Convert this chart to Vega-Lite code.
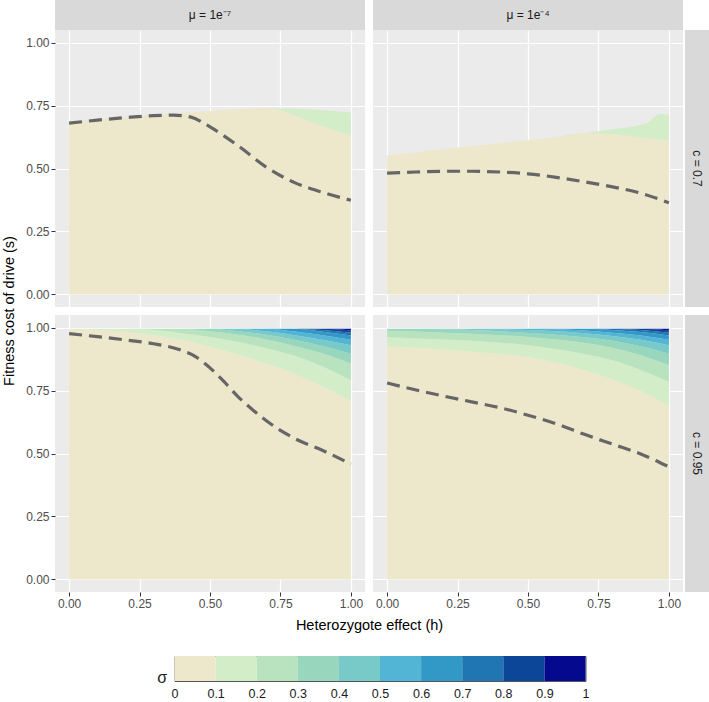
{
  "$schema": "https://vega.github.io/schema/vega-lite/v6.json",
  "padding": {"left": 1, "top": 0, "right": 0, "bottom": 0},
  "datasets": {
    "bands": [
      {"p":"a","h":0,"z":0.05,"lo":0,"hi":0.686},{"p":"a","h":0.1,"z":0.05,"lo":0,"hi":0.695},{"p":"a","h":0.2,"z":0.05,"lo":0,"hi":0.704},{"p":"a","h":0.3,"z":0.05,"lo":0,"hi":0.712},{"p":"a","h":0.4,"z":0.05,"lo":0,"hi":0.72},{"p":"a","h":0.5,"z":0.05,"lo":0,"hi":0.728},{"p":"a","h":0.6,"z":0.05,"lo":0,"hi":0.735},{"p":"a","h":0.7,"z":0.05,"lo":0,"hi":0.74},{"p":"a","h":0.8,"z":0.05,"lo":0,"hi":0.71},{"p":"a","h":0.9,"z":0.05,"lo":0,"hi":0.668},{"p":"a","h":1,"z":0.05,"lo":0,"hi":0.632},
      {"p":"a","h":0,"z":0.15,"lo":0.686,"hi":0.686},{"p":"a","h":0.1,"z":0.15,"lo":0.695,"hi":0.695},{"p":"a","h":0.2,"z":0.15,"lo":0.704,"hi":0.704},{"p":"a","h":0.3,"z":0.15,"lo":0.712,"hi":0.712},{"p":"a","h":0.4,"z":0.15,"lo":0.72,"hi":0.72},{"p":"a","h":0.5,"z":0.15,"lo":0.728,"hi":0.728},{"p":"a","h":0.6,"z":0.15,"lo":0.735,"hi":0.735},{"p":"a","h":0.7,"z":0.15,"lo":0.74,"hi":0.74},{"p":"a","h":0.8,"z":0.15,"lo":0.71,"hi":0.738},{"p":"a","h":0.9,"z":0.15,"lo":0.668,"hi":0.731},{"p":"a","h":1,"z":0.15,"lo":0.632,"hi":0.722},

      {"p":"b","h":0,"z":0.05,"lo":0,"hi":0.552},{"p":"b","h":0.1,"z":0.05,"lo":0,"hi":0.564},{"p":"b","h":0.2,"z":0.05,"lo":0,"hi":0.576},{"p":"b","h":0.3,"z":0.05,"lo":0,"hi":0.588},{"p":"b","h":0.4,"z":0.05,"lo":0,"hi":0.6},{"p":"b","h":0.5,"z":0.05,"lo":0,"hi":0.612},{"p":"b","h":0.6,"z":0.05,"lo":0,"hi":0.625},{"p":"b","h":0.7,"z":0.05,"lo":0,"hi":0.64},{"p":"b","h":0.8,"z":0.05,"lo":0,"hi":0.637},{"p":"b","h":0.9,"z":0.05,"lo":0,"hi":0.623},{"p":"b","h":0.93,"z":0.05,"lo":0,"hi":0.619},{"p":"b","h":0.95,"z":0.05,"lo":0,"hi":0.617},{"p":"b","h":0.97,"z":0.05,"lo":0,"hi":0.615},{"p":"b","h":1,"z":0.05,"lo":0,"hi":0.612},
      {"p":"b","h":0,"z":0.15,"lo":0.552,"hi":0.552},{"p":"b","h":0.1,"z":0.15,"lo":0.564,"hi":0.564},{"p":"b","h":0.2,"z":0.15,"lo":0.576,"hi":0.576},{"p":"b","h":0.3,"z":0.15,"lo":0.588,"hi":0.588},{"p":"b","h":0.4,"z":0.15,"lo":0.6,"hi":0.6},{"p":"b","h":0.5,"z":0.15,"lo":0.612,"hi":0.612},{"p":"b","h":0.6,"z":0.15,"lo":0.625,"hi":0.625},{"p":"b","h":0.7,"z":0.15,"lo":0.64,"hi":0.64},{"p":"b","h":0.8,"z":0.15,"lo":0.637,"hi":0.657},{"p":"b","h":0.9,"z":0.15,"lo":0.623,"hi":0.674},{"p":"b","h":0.93,"z":0.15,"lo":0.619,"hi":0.686},{"p":"b","h":0.95,"z":0.15,"lo":0.617,"hi":0.706},{"p":"b","h":0.97,"z":0.15,"lo":0.615,"hi":0.716},{"p":"b","h":1,"z":0.15,"lo":0.612,"hi":0.713},

      {"p":"c","h":0,"z":0.05,"lo":0,"hi":0.995},{"p":"c","h":0.1,"z":0.05,"lo":0,"hi":0.99},{"p":"c","h":0.2,"z":0.05,"lo":0,"hi":0.983},{"p":"c","h":0.3,"z":0.05,"lo":0,"hi":0.97},{"p":"c","h":0.4,"z":0.05,"lo":0,"hi":0.952},{"p":"c","h":0.5,"z":0.05,"lo":0,"hi":0.925},{"p":"c","h":0.6,"z":0.05,"lo":0,"hi":0.893},{"p":"c","h":0.7,"z":0.05,"lo":0,"hi":0.857},{"p":"c","h":0.8,"z":0.05,"lo":0,"hi":0.817},{"p":"c","h":0.9,"z":0.05,"lo":0,"hi":0.767},{"p":"c","h":1,"z":0.05,"lo":0,"hi":0.708},
      {"p":"c","h":0,"z":0.15,"lo":0.995,"hi":0.995},{"p":"c","h":0.1,"z":0.15,"lo":0.99,"hi":0.995},{"p":"c","h":0.2,"z":0.15,"lo":0.983,"hi":0.995},{"p":"c","h":0.3,"z":0.15,"lo":0.97,"hi":0.99},{"p":"c","h":0.4,"z":0.15,"lo":0.952,"hi":0.978},{"p":"c","h":0.5,"z":0.15,"lo":0.925,"hi":0.963},{"p":"c","h":0.6,"z":0.15,"lo":0.893,"hi":0.943},{"p":"c","h":0.7,"z":0.15,"lo":0.857,"hi":0.918},{"p":"c","h":0.8,"z":0.15,"lo":0.817,"hi":0.888},{"p":"c","h":0.9,"z":0.15,"lo":0.767,"hi":0.845},{"p":"c","h":1,"z":0.15,"lo":0.708,"hi":0.79},
      {"p":"c","h":0,"z":0.25,"lo":0.995,"hi":0.995},{"p":"c","h":0.1,"z":0.25,"lo":0.995,"hi":0.995},{"p":"c","h":0.2,"z":0.25,"lo":0.995,"hi":0.995},{"p":"c","h":0.3,"z":0.25,"lo":0.99,"hi":0.995},{"p":"c","h":0.4,"z":0.25,"lo":0.978,"hi":0.995},{"p":"c","h":0.5,"z":0.25,"lo":0.963,"hi":0.985},{"p":"c","h":0.6,"z":0.25,"lo":0.943,"hi":0.972},{"p":"c","h":0.7,"z":0.25,"lo":0.918,"hi":0.953},{"p":"c","h":0.8,"z":0.25,"lo":0.888,"hi":0.927},{"p":"c","h":0.9,"z":0.25,"lo":0.845,"hi":0.897},{"p":"c","h":1,"z":0.25,"lo":0.79,"hi":0.857},
      {"p":"c","h":0,"z":0.35,"lo":0.995,"hi":0.995},{"p":"c","h":0.1,"z":0.35,"lo":0.995,"hi":0.995},{"p":"c","h":0.2,"z":0.35,"lo":0.995,"hi":0.995},{"p":"c","h":0.3,"z":0.35,"lo":0.995,"hi":0.995},{"p":"c","h":0.4,"z":0.35,"lo":0.995,"hi":0.995},{"p":"c","h":0.5,"z":0.35,"lo":0.985,"hi":0.995},{"p":"c","h":0.6,"z":0.35,"lo":0.972,"hi":0.985},{"p":"c","h":0.7,"z":0.35,"lo":0.953,"hi":0.972},{"p":"c","h":0.8,"z":0.35,"lo":0.927,"hi":0.952},{"p":"c","h":0.9,"z":0.35,"lo":0.897,"hi":0.927},{"p":"c","h":1,"z":0.35,"lo":0.857,"hi":0.896},
      {"p":"c","h":0,"z":0.45,"lo":0.995,"hi":0.995},{"p":"c","h":0.1,"z":0.45,"lo":0.995,"hi":0.995},{"p":"c","h":0.2,"z":0.45,"lo":0.995,"hi":0.995},{"p":"c","h":0.3,"z":0.45,"lo":0.995,"hi":0.995},{"p":"c","h":0.4,"z":0.45,"lo":0.995,"hi":0.995},{"p":"c","h":0.5,"z":0.45,"lo":0.995,"hi":0.995},{"p":"c","h":0.6,"z":0.45,"lo":0.985,"hi":0.995},{"p":"c","h":0.7,"z":0.45,"lo":0.972,"hi":0.985},{"p":"c","h":0.8,"z":0.45,"lo":0.952,"hi":0.97},{"p":"c","h":0.9,"z":0.45,"lo":0.927,"hi":0.952},{"p":"c","h":1,"z":0.45,"lo":0.896,"hi":0.93},
      {"p":"c","h":0,"z":0.55,"lo":0.995,"hi":0.995},{"p":"c","h":0.1,"z":0.55,"lo":0.995,"hi":0.995},{"p":"c","h":0.2,"z":0.55,"lo":0.995,"hi":0.995},{"p":"c","h":0.3,"z":0.55,"lo":0.995,"hi":0.995},{"p":"c","h":0.4,"z":0.55,"lo":0.995,"hi":0.995},{"p":"c","h":0.5,"z":0.55,"lo":0.995,"hi":0.995},{"p":"c","h":0.6,"z":0.55,"lo":0.995,"hi":0.995},{"p":"c","h":0.7,"z":0.55,"lo":0.985,"hi":0.995},{"p":"c","h":0.8,"z":0.55,"lo":0.97,"hi":0.984},{"p":"c","h":0.9,"z":0.55,"lo":0.952,"hi":0.97},{"p":"c","h":1,"z":0.55,"lo":0.93,"hi":0.952},
      {"p":"c","h":0,"z":0.65,"lo":0.995,"hi":0.995},{"p":"c","h":0.1,"z":0.65,"lo":0.995,"hi":0.995},{"p":"c","h":0.2,"z":0.65,"lo":0.995,"hi":0.995},{"p":"c","h":0.3,"z":0.65,"lo":0.995,"hi":0.995},{"p":"c","h":0.4,"z":0.65,"lo":0.995,"hi":0.995},{"p":"c","h":0.5,"z":0.65,"lo":0.995,"hi":0.995},{"p":"c","h":0.6,"z":0.65,"lo":0.995,"hi":0.995},{"p":"c","h":0.7,"z":0.65,"lo":0.995,"hi":0.995},{"p":"c","h":0.8,"z":0.65,"lo":0.984,"hi":0.995},{"p":"c","h":0.9,"z":0.65,"lo":0.97,"hi":0.983},{"p":"c","h":1,"z":0.65,"lo":0.952,"hi":0.969},
      {"p":"c","h":0,"z":0.75,"lo":0.995,"hi":0.995},{"p":"c","h":0.1,"z":0.75,"lo":0.995,"hi":0.995},{"p":"c","h":0.2,"z":0.75,"lo":0.995,"hi":0.995},{"p":"c","h":0.3,"z":0.75,"lo":0.995,"hi":0.995},{"p":"c","h":0.4,"z":0.75,"lo":0.995,"hi":0.995},{"p":"c","h":0.5,"z":0.75,"lo":0.995,"hi":0.995},{"p":"c","h":0.6,"z":0.75,"lo":0.995,"hi":0.995},{"p":"c","h":0.7,"z":0.75,"lo":0.995,"hi":0.995},{"p":"c","h":0.8,"z":0.75,"lo":0.995,"hi":0.995},{"p":"c","h":0.9,"z":0.75,"lo":0.983,"hi":0.99},{"p":"c","h":1,"z":0.75,"lo":0.969,"hi":0.98},
      {"p":"c","h":0,"z":0.85,"lo":0.995,"hi":0.995},{"p":"c","h":0.1,"z":0.85,"lo":0.995,"hi":0.995},{"p":"c","h":0.2,"z":0.85,"lo":0.995,"hi":0.995},{"p":"c","h":0.3,"z":0.85,"lo":0.995,"hi":0.995},{"p":"c","h":0.4,"z":0.85,"lo":0.995,"hi":0.995},{"p":"c","h":0.5,"z":0.85,"lo":0.995,"hi":0.995},{"p":"c","h":0.6,"z":0.85,"lo":0.995,"hi":0.995},{"p":"c","h":0.7,"z":0.85,"lo":0.995,"hi":0.995},{"p":"c","h":0.8,"z":0.85,"lo":0.995,"hi":0.995},{"p":"c","h":0.9,"z":0.85,"lo":0.99,"hi":0.995},{"p":"c","h":1,"z":0.85,"lo":0.98,"hi":0.988},
      {"p":"c","h":0,"z":0.95,"lo":0.995,"hi":0.995},{"p":"c","h":0.1,"z":0.95,"lo":0.995,"hi":0.995},{"p":"c","h":0.2,"z":0.95,"lo":0.995,"hi":0.995},{"p":"c","h":0.3,"z":0.95,"lo":0.995,"hi":0.995},{"p":"c","h":0.4,"z":0.95,"lo":0.995,"hi":0.995},{"p":"c","h":0.5,"z":0.95,"lo":0.995,"hi":0.995},{"p":"c","h":0.6,"z":0.95,"lo":0.995,"hi":0.995},{"p":"c","h":0.7,"z":0.95,"lo":0.995,"hi":0.995},{"p":"c","h":0.8,"z":0.95,"lo":0.995,"hi":0.995},{"p":"c","h":0.9,"z":0.95,"lo":0.995,"hi":0.995},{"p":"c","h":1,"z":0.95,"lo":0.988,"hi":0.995},

      {"p":"d","h":0,"z":0.05,"lo":0,"hi":0.926},{"p":"d","h":0.1,"z":0.05,"lo":0,"hi":0.92},{"p":"d","h":0.2,"z":0.05,"lo":0,"hi":0.913},{"p":"d","h":0.3,"z":0.05,"lo":0,"hi":0.905},{"p":"d","h":0.4,"z":0.05,"lo":0,"hi":0.895},{"p":"d","h":0.5,"z":0.05,"lo":0,"hi":0.882},{"p":"d","h":0.6,"z":0.05,"lo":0,"hi":0.862},{"p":"d","h":0.7,"z":0.05,"lo":0,"hi":0.832},{"p":"d","h":0.8,"z":0.05,"lo":0,"hi":0.795},{"p":"d","h":0.9,"z":0.05,"lo":0,"hi":0.748},{"p":"d","h":1,"z":0.05,"lo":0,"hi":0.69},
      {"p":"d","h":0,"z":0.15,"lo":0.926,"hi":0.963},{"p":"d","h":0.1,"z":0.15,"lo":0.92,"hi":0.958},{"p":"d","h":0.2,"z":0.15,"lo":0.913,"hi":0.953},{"p":"d","h":0.3,"z":0.15,"lo":0.905,"hi":0.948},{"p":"d","h":0.4,"z":0.15,"lo":0.895,"hi":0.94},{"p":"d","h":0.5,"z":0.15,"lo":0.882,"hi":0.93},{"p":"d","h":0.6,"z":0.15,"lo":0.862,"hi":0.915},{"p":"d","h":0.7,"z":0.15,"lo":0.832,"hi":0.895},{"p":"d","h":0.8,"z":0.15,"lo":0.795,"hi":0.87},{"p":"d","h":0.9,"z":0.15,"lo":0.748,"hi":0.832},{"p":"d","h":1,"z":0.15,"lo":0.69,"hi":0.784},
      {"p":"d","h":0,"z":0.25,"lo":0.963,"hi":0.987},{"p":"d","h":0.1,"z":0.25,"lo":0.958,"hi":0.984},{"p":"d","h":0.2,"z":0.25,"lo":0.953,"hi":0.98},{"p":"d","h":0.3,"z":0.25,"lo":0.948,"hi":0.976},{"p":"d","h":0.4,"z":0.25,"lo":0.94,"hi":0.97},{"p":"d","h":0.5,"z":0.25,"lo":0.93,"hi":0.963},{"p":"d","h":0.6,"z":0.25,"lo":0.915,"hi":0.953},{"p":"d","h":0.7,"z":0.25,"lo":0.895,"hi":0.94},{"p":"d","h":0.8,"z":0.25,"lo":0.87,"hi":0.92},{"p":"d","h":0.9,"z":0.25,"lo":0.832,"hi":0.89},{"p":"d","h":1,"z":0.25,"lo":0.784,"hi":0.85},
      {"p":"d","h":0,"z":0.35,"lo":0.987,"hi":0.995},{"p":"d","h":0.1,"z":0.35,"lo":0.984,"hi":0.995},{"p":"d","h":0.2,"z":0.35,"lo":0.98,"hi":0.993},{"p":"d","h":0.3,"z":0.35,"lo":0.976,"hi":0.99},{"p":"d","h":0.4,"z":0.35,"lo":0.97,"hi":0.985},{"p":"d","h":0.5,"z":0.35,"lo":0.963,"hi":0.979},{"p":"d","h":0.6,"z":0.35,"lo":0.953,"hi":0.972},{"p":"d","h":0.7,"z":0.35,"lo":0.94,"hi":0.962},{"p":"d","h":0.8,"z":0.35,"lo":0.92,"hi":0.948},{"p":"d","h":0.9,"z":0.35,"lo":0.89,"hi":0.926},{"p":"d","h":1,"z":0.35,"lo":0.85,"hi":0.896},
      {"p":"d","h":0,"z":0.45,"lo":0.995,"hi":0.995},{"p":"d","h":0.1,"z":0.45,"lo":0.995,"hi":0.995},{"p":"d","h":0.2,"z":0.45,"lo":0.993,"hi":0.995},{"p":"d","h":0.3,"z":0.45,"lo":0.99,"hi":0.995},{"p":"d","h":0.4,"z":0.45,"lo":0.985,"hi":0.993},{"p":"d","h":0.5,"z":0.45,"lo":0.979,"hi":0.99},{"p":"d","h":0.6,"z":0.45,"lo":0.972,"hi":0.985},{"p":"d","h":0.7,"z":0.45,"lo":0.962,"hi":0.978},{"p":"d","h":0.8,"z":0.45,"lo":0.948,"hi":0.967},{"p":"d","h":0.9,"z":0.45,"lo":0.926,"hi":0.952},{"p":"d","h":1,"z":0.45,"lo":0.896,"hi":0.93},
      {"p":"d","h":0,"z":0.55,"lo":0.995,"hi":0.995},{"p":"d","h":0.1,"z":0.55,"lo":0.995,"hi":0.995},{"p":"d","h":0.2,"z":0.55,"lo":0.995,"hi":0.995},{"p":"d","h":0.3,"z":0.55,"lo":0.995,"hi":0.995},{"p":"d","h":0.4,"z":0.55,"lo":0.993,"hi":0.995},{"p":"d","h":0.5,"z":0.55,"lo":0.99,"hi":0.995},{"p":"d","h":0.6,"z":0.55,"lo":0.985,"hi":0.993},{"p":"d","h":0.7,"z":0.55,"lo":0.978,"hi":0.988},{"p":"d","h":0.8,"z":0.55,"lo":0.967,"hi":0.98},{"p":"d","h":0.9,"z":0.55,"lo":0.952,"hi":0.969},{"p":"d","h":1,"z":0.55,"lo":0.93,"hi":0.952},
      {"p":"d","h":0,"z":0.65,"lo":0.995,"hi":0.995},{"p":"d","h":0.1,"z":0.65,"lo":0.995,"hi":0.995},{"p":"d","h":0.2,"z":0.65,"lo":0.995,"hi":0.995},{"p":"d","h":0.3,"z":0.65,"lo":0.995,"hi":0.995},{"p":"d","h":0.4,"z":0.65,"lo":0.995,"hi":0.995},{"p":"d","h":0.5,"z":0.65,"lo":0.995,"hi":0.995},{"p":"d","h":0.6,"z":0.65,"lo":0.993,"hi":0.995},{"p":"d","h":0.7,"z":0.65,"lo":0.988,"hi":0.995},{"p":"d","h":0.8,"z":0.65,"lo":0.98,"hi":0.99},{"p":"d","h":0.9,"z":0.65,"lo":0.969,"hi":0.982},{"p":"d","h":1,"z":0.65,"lo":0.952,"hi":0.969},
      {"p":"d","h":0,"z":0.75,"lo":0.995,"hi":0.995},{"p":"d","h":0.1,"z":0.75,"lo":0.995,"hi":0.995},{"p":"d","h":0.2,"z":0.75,"lo":0.995,"hi":0.995},{"p":"d","h":0.3,"z":0.75,"lo":0.995,"hi":0.995},{"p":"d","h":0.4,"z":0.75,"lo":0.995,"hi":0.995},{"p":"d","h":0.5,"z":0.75,"lo":0.995,"hi":0.995},{"p":"d","h":0.6,"z":0.75,"lo":0.995,"hi":0.995},{"p":"d","h":0.7,"z":0.75,"lo":0.995,"hi":0.995},{"p":"d","h":0.8,"z":0.75,"lo":0.99,"hi":0.995},{"p":"d","h":0.9,"z":0.75,"lo":0.982,"hi":0.99},{"p":"d","h":1,"z":0.75,"lo":0.969,"hi":0.98},
      {"p":"d","h":0,"z":0.85,"lo":0.995,"hi":0.995},{"p":"d","h":0.1,"z":0.85,"lo":0.995,"hi":0.995},{"p":"d","h":0.2,"z":0.85,"lo":0.995,"hi":0.995},{"p":"d","h":0.3,"z":0.85,"lo":0.995,"hi":0.995},{"p":"d","h":0.4,"z":0.85,"lo":0.995,"hi":0.995},{"p":"d","h":0.5,"z":0.85,"lo":0.995,"hi":0.995},{"p":"d","h":0.6,"z":0.85,"lo":0.995,"hi":0.995},{"p":"d","h":0.7,"z":0.85,"lo":0.995,"hi":0.995},{"p":"d","h":0.8,"z":0.85,"lo":0.995,"hi":0.995},{"p":"d","h":0.9,"z":0.85,"lo":0.99,"hi":0.995},{"p":"d","h":1,"z":0.85,"lo":0.98,"hi":0.988},
      {"p":"d","h":0,"z":0.95,"lo":0.995,"hi":0.995},{"p":"d","h":0.1,"z":0.95,"lo":0.995,"hi":0.995},{"p":"d","h":0.2,"z":0.95,"lo":0.995,"hi":0.995},{"p":"d","h":0.3,"z":0.95,"lo":0.995,"hi":0.995},{"p":"d","h":0.4,"z":0.95,"lo":0.995,"hi":0.995},{"p":"d","h":0.5,"z":0.95,"lo":0.995,"hi":0.995},{"p":"d","h":0.6,"z":0.95,"lo":0.995,"hi":0.995},{"p":"d","h":0.7,"z":0.95,"lo":0.995,"hi":0.995},{"p":"d","h":0.8,"z":0.95,"lo":0.995,"hi":0.995},{"p":"d","h":0.9,"z":0.95,"lo":0.995,"hi":0.995},{"p":"d","h":1,"z":0.95,"lo":0.988,"hi":0.995}
    ],
    "dash": [
      {"p":"a","h":0,"s":0.68},{"p":"a","h":0.1,"s":0.692},{"p":"a","h":0.2,"s":0.702},{"p":"a","h":0.3,"s":0.71},{"p":"a","h":0.37,"s":0.712},{"p":"a","h":0.43,"s":0.705},{"p":"a","h":0.5,"s":0.665},{"p":"a","h":0.6,"s":0.59},{"p":"a","h":0.7,"s":0.505},{"p":"a","h":0.8,"s":0.444},{"p":"a","h":0.9,"s":0.405},{"p":"a","h":1,"s":0.374},
      {"p":"b","h":0,"s":0.482},{"p":"b","h":0.1,"s":0.486},{"p":"b","h":0.2,"s":0.489},{"p":"b","h":0.3,"s":0.489},{"p":"b","h":0.4,"s":0.486},{"p":"b","h":0.5,"s":0.479},{"p":"b","h":0.6,"s":0.465},{"p":"b","h":0.7,"s":0.447},{"p":"b","h":0.8,"s":0.427},{"p":"b","h":0.9,"s":0.402},{"p":"b","h":1,"s":0.364},
      {"p":"c","h":0,"s":0.976},{"p":"c","h":0.1,"s":0.964},{"p":"c","h":0.2,"s":0.951},{"p":"c","h":0.3,"s":0.936},{"p":"c","h":0.4,"s":0.909},{"p":"c","h":0.45,"s":0.884},{"p":"c","h":0.5,"s":0.84},{"p":"c","h":0.55,"s":0.785},{"p":"c","h":0.6,"s":0.725},{"p":"c","h":0.65,"s":0.675},{"p":"c","h":0.7,"s":0.63},{"p":"c","h":0.8,"s":0.56},{"p":"c","h":0.9,"s":0.512},{"p":"c","h":1,"s":0.458},
      {"p":"d","h":0,"s":0.78},{"p":"d","h":0.1,"s":0.753},{"p":"d","h":0.2,"s":0.728},{"p":"d","h":0.3,"s":0.705},{"p":"d","h":0.4,"s":0.682},{"p":"d","h":0.5,"s":0.652},{"p":"d","h":0.6,"s":0.618},{"p":"d","h":0.7,"s":0.576},{"p":"d","h":0.8,"s":0.537},{"p":"d","h":0.9,"s":0.498},{"p":"d","h":1,"s":0.447}
    ],
    "bins": [
      {"lo":0,"hi":0.1,"z":0.05},{"lo":0.1,"hi":0.2,"z":0.15},{"lo":0.2,"hi":0.3,"z":0.25},{"lo":0.3,"hi":0.4,"z":0.35},{"lo":0.4,"hi":0.5,"z":0.45},
      {"lo":0.5,"hi":0.6,"z":0.55},{"lo":0.6,"hi":0.7,"z":0.65},{"lo":0.7,"hi":0.8,"z":0.75},{"lo":0.8,"hi":0.9,"z":0.85},{"lo":0.9,"hi":1,"z":0.95}
    ]
  },
  "vconcat": [
    {
      "concat": [
        {"width":310,"height":30,"view":{"fill":"#D9D9D9","stroke":null},"data":{"values":[{"lab":"μ = 1e⁻⁷"}]},"mark":{"type":"text","fontSize":12,"color":"#1A1A1A"},"encoding":{"text":{"field":"lab"}}},
        {"width":8,"height":1,"data":{"values":[]},"mark":"point"},
        {"width":310,"height":30,"view":{"fill":"#D9D9D9","stroke":null},"data":{"values":[{"lab":"μ = 1e⁻⁴"}]},"mark":{"type":"text","fontSize":12,"color":"#1A1A1A"},"encoding":{"text":{"field":"lab"}}},
        {"width":2,"height":1,"data":{"values":[]},"mark":"point"},
        {"width":1,"height":1,"data":{"values":[]},"mark":"point"},

        {"width":310,"height":277,"view":{"fill":"#EBEBEB","stroke":null},
         "layer":[
          {"data":{"name":"bands"},"transform":[{"filter":"datum.p === 'a'"}],"mark":{"type":"area","interpolate":"monotone"},
           "encoding":{
            "x":{"field":"h","type":"quantitative","scale":{"domain":[-0.05,1.05],"nice":false,"zero":false},
                 "axis":{"values":[0,0.125,0.25,0.375,0.5,0.625,0.75,0.875,1],"grid":true,"gridWidth":{"condition":{"test":"datum.value % 0.25 !== 0","value":0.6},"value":1.2},"labels":false,"ticks":false,"title":null}},
            "y":{"field":"lo","type":"quantitative","scale":{"domain":[-0.05,1.05],"nice":false,"zero":false},
                 "axis":{"values":[0,0.125,0.25,0.375,0.5,0.625,0.75,0.875,1],"grid":true,"gridWidth":{"condition":{"test":"datum.value % 0.25 !== 0","value":0.6},"value":1.2},"tickOpacity":{"condition":{"test":"datum.value % 0.25 !== 0","value":0},"value":1},"labelExpr":"datum.value % 0.25 === 0 ? format(datum.value, '.2f') : ''","labelPadding":2,"title":"Fitness cost of drive (s)","titleY":280.5,"titlePadding":9}},
            "y2":{"field":"hi"},
            "color":{"field":"z","type":"quantitative","scale":{"type":"quantize","domain":[0,1],"range":["#EDE7CB","#D3EDC9","#B9E3BF","#98D6BE","#77CAC7","#52B5D5","#3298C6","#1F76B3","#0C4699","#05098E"]},"legend":null},
            "detail":{"field":"z","type":"quantitative"}
           }},
          {"data":{"name":"dash"},"transform":[{"filter":"datum.p === 'a'"}],"mark":{"type":"line","interpolate":"monotone","color":"#666666","strokeWidth":3.2,"strokeDash":[13,7]},
           "encoding":{"x":{"field":"h","type":"quantitative"},"y":{"field":"s","type":"quantitative"}}}
         ]},
        {"width":8,"height":1,"data":{"values":[]},"mark":"point"},
        {"width":310,"height":277,"view":{"fill":"#EBEBEB","stroke":null},
         "layer":[
          {"data":{"name":"bands"},"transform":[{"filter":"datum.p === 'b'"}],"mark":{"type":"area","interpolate":"monotone"},
           "encoding":{
            "x":{"field":"h","type":"quantitative","scale":{"domain":[-0.05,1.05],"nice":false,"zero":false},
                 "axis":{"values":[0,0.125,0.25,0.375,0.5,0.625,0.75,0.875,1],"grid":true,"gridWidth":{"condition":{"test":"datum.value % 0.25 !== 0","value":0.6},"value":1.2},"labels":false,"ticks":false,"title":null}},
            "y":{"field":"lo","type":"quantitative","scale":{"domain":[-0.05,1.05],"nice":false,"zero":false},
                 "axis":{"values":[0,0.125,0.25,0.375,0.5,0.625,0.75,0.875,1],"grid":true,"gridWidth":{"condition":{"test":"datum.value % 0.25 !== 0","value":0.6},"value":1.2},"labels":false,"ticks":false,"title":null}},
            "y2":{"field":"hi"},
            "color":{"field":"z","type":"quantitative","scale":{"type":"quantize","domain":[0,1],"range":["#EDE7CB","#D3EDC9","#B9E3BF","#98D6BE","#77CAC7","#52B5D5","#3298C6","#1F76B3","#0C4699","#05098E"]},"legend":null},
            "detail":{"field":"z","type":"quantitative"}
           }},
          {"data":{"name":"dash"},"transform":[{"filter":"datum.p === 'b'"}],"mark":{"type":"line","interpolate":"monotone","color":"#666666","strokeWidth":3.2,"strokeDash":[13,7]},
           "encoding":{"x":{"field":"h","type":"quantitative"},"y":{"field":"s","type":"quantitative"}}}
         ]},
        {"width":2,"height":1,"data":{"values":[]},"mark":"point"},
        {"width":24,"height":277,"view":{"fill":"#D9D9D9","stroke":null},"data":{"values":[{"lab":"c = 0.7"}]},"mark":{"type":"text","fontSize":12,"color":"#1A1A1A","angle":90},"encoding":{"text":{"field":"lab"}}},

        {"width":1,"height":8,"data":{"values":[]},"mark":"point"},
        {"width":8,"height":8,"data":{"values":[]},"mark":"point"},
        {"width":1,"height":8,"data":{"values":[]},"mark":"point"},
        {"width":2,"height":8,"data":{"values":[]},"mark":"point"},
        {"width":1,"height":8,"data":{"values":[]},"mark":"point"},

        {"width":310,"height":277,"view":{"fill":"#EBEBEB","stroke":null},
         "layer":[
          {"data":{"name":"bands"},"transform":[{"filter":"datum.p === 'c'"}],"mark":{"type":"area","interpolate":"monotone"},
           "encoding":{
            "x":{"field":"h","type":"quantitative","scale":{"domain":[-0.05,1.05],"nice":false,"zero":false},
                 "axis":{"values":[0,0.125,0.25,0.375,0.5,0.625,0.75,0.875,1],"grid":true,"gridWidth":{"condition":{"test":"datum.value % 0.25 !== 0","value":0.6},"value":1.2},"tickOpacity":{"condition":{"test":"datum.value % 0.25 !== 0","value":0},"value":1},"labelExpr":"datum.value % 0.25 === 0 ? format(datum.value, '.2f') : ''","labelPadding":2,"title":"Heterozygote effect (h)","titleX":314,"titlePadding":9}},
            "y":{"field":"lo","type":"quantitative","scale":{"domain":[-0.05,1.05],"nice":false,"zero":false},
                 "axis":{"values":[0,0.125,0.25,0.375,0.5,0.625,0.75,0.875,1],"grid":true,"gridWidth":{"condition":{"test":"datum.value % 0.25 !== 0","value":0.6},"value":1.2},"tickOpacity":{"condition":{"test":"datum.value % 0.25 !== 0","value":0},"value":1},"labelExpr":"datum.value % 0.25 === 0 ? format(datum.value, '.2f') : ''","labelPadding":2,"title":null}},
            "y2":{"field":"hi"},
            "color":{"field":"z","type":"quantitative","scale":{"type":"quantize","domain":[0,1],"range":["#EDE7CB","#D3EDC9","#B9E3BF","#98D6BE","#77CAC7","#52B5D5","#3298C6","#1F76B3","#0C4699","#05098E"]},"legend":null},
            "detail":{"field":"z","type":"quantitative"}
           }},
          {"data":{"name":"dash"},"transform":[{"filter":"datum.p === 'c'"}],"mark":{"type":"line","interpolate":"monotone","color":"#666666","strokeWidth":3.2,"strokeDash":[13,7]},
           "encoding":{"x":{"field":"h","type":"quantitative"},"y":{"field":"s","type":"quantitative"}}}
         ]},
        {"width":8,"height":1,"data":{"values":[]},"mark":"point"},
        {"width":310,"height":277,"view":{"fill":"#EBEBEB","stroke":null},
         "layer":[
          {"data":{"name":"bands"},"transform":[{"filter":"datum.p === 'd'"}],"mark":{"type":"area","interpolate":"monotone"},
           "encoding":{
            "x":{"field":"h","type":"quantitative","scale":{"domain":[-0.05,1.05],"nice":false,"zero":false},
                 "axis":{"values":[0,0.125,0.25,0.375,0.5,0.625,0.75,0.875,1],"grid":true,"gridWidth":{"condition":{"test":"datum.value % 0.25 !== 0","value":0.6},"value":1.2},"tickOpacity":{"condition":{"test":"datum.value % 0.25 !== 0","value":0},"value":1},"labelExpr":"datum.value % 0.25 === 0 ? format(datum.value, '.2f') : ''","labelPadding":2,"title":null}},
            "y":{"field":"lo","type":"quantitative","scale":{"domain":[-0.05,1.05],"nice":false,"zero":false},
                 "axis":{"values":[0,0.125,0.25,0.375,0.5,0.625,0.75,0.875,1],"grid":true,"gridWidth":{"condition":{"test":"datum.value % 0.25 !== 0","value":0.6},"value":1.2},"labels":false,"ticks":false,"title":null}},
            "y2":{"field":"hi"},
            "color":{"field":"z","type":"quantitative","scale":{"type":"quantize","domain":[0,1],"range":["#EDE7CB","#D3EDC9","#B9E3BF","#98D6BE","#77CAC7","#52B5D5","#3298C6","#1F76B3","#0C4699","#05098E"]},"legend":null},
            "detail":{"field":"z","type":"quantitative"}
           }},
          {"data":{"name":"dash"},"transform":[{"filter":"datum.p === 'd'"}],"mark":{"type":"line","interpolate":"monotone","color":"#666666","strokeWidth":3.2,"strokeDash":[13,7]},
           "encoding":{"x":{"field":"h","type":"quantitative"},"y":{"field":"s","type":"quantitative"}}}
         ]},
        {"width":2,"height":1,"data":{"values":[]},"mark":"point"},
        {"width":24,"height":277,"view":{"fill":"#D9D9D9","stroke":null},"data":{"values":[{"lab":"c = 0.95"}]},"mark":{"type":"text","fontSize":12,"color":"#1A1A1A","angle":90},"encoding":{"text":{"field":"lab"}}}
      ],
      "columns": 5,
      "spacing": {"row": 0, "column": 0},
      "bounds": "flush",
      "align": "each"
    },
    {
      "width": 411, "height": 25,
      "view": {"stroke": "#555555", "strokeWidth": 1},
      "data": {"name": "bins"},
      "mark": {"type": "rect"},
      "encoding": {
        "x": {"field": "lo", "type": "quantitative", "scale": {"domain": [0, 1], "nice": false, "zero": false},
              "axis": {"values": [0,0.1,0.2,0.3,0.4,0.5,0.6,0.7,0.8,0.9,1], "format": "~g", "ticks": false, "domain": false, "grid": false, "labelPadding": 6, "labelColor": "#1A1A1A", "labelFontSize": 12.5, "title": null}},
        "x2": {"field": "hi"},
        "y": {"datum": "σ", "type": "nominal", "scale": {"paddingInner": 0, "paddingOuter": 0},
              "axis": {"title": null, "ticks": false, "domain": false, "grid": false, "labelFontSize": 16, "labelColor": "#1A1A1A", "labelPadding": 8, "labelBaseline": "alphabetic", "labelOffset": 14, "labelAngle": 0}},
        "color": {"field": "z", "type": "quantitative", "scale": {"type":"quantize","domain":[0,1],"range":["#EDE7CB","#D3EDC9","#B9E3BF","#98D6BE","#77CAC7","#52B5D5","#3298C6","#1F76B3","#0C4699","#05098E"]}, "legend": null}
      }
    }
  ],
  "spacing": 23,
  "center": true,
  "config": {
    "view": {"stroke": null},
    "font": "Liberation Sans",
    "text": {"font": "Liberation Sans"},
    "axis": {"labelFont": "Liberation Sans", "labelFontSize": 12, "labelColor": "#4D4D4D", "tickColor": "#333333", "tickSize": 4, "tickWidth": 1, "domain": false, "gridColor": "#FFFFFF", "labelFlush": false, "labelOverlap": false, "titleFont": "Liberation Sans", "titleFontSize": 14.5, "titleFontWeight": "normal", "titleColor": "#000000"}
  }
}
